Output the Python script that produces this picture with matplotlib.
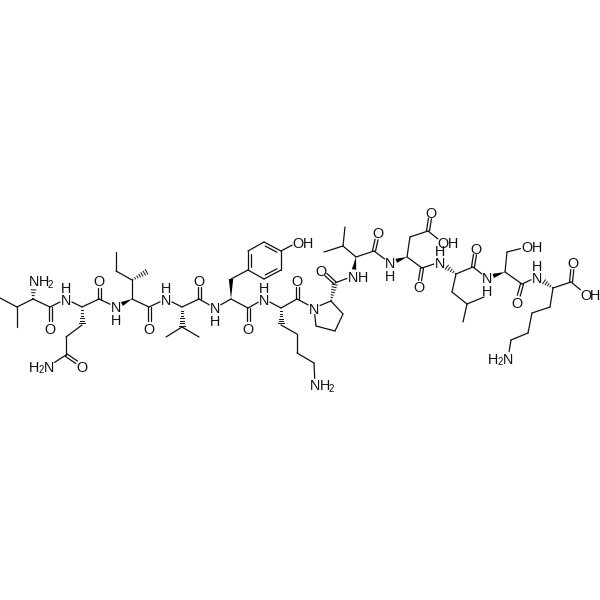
import matplotlib
matplotlib.use("Agg")
import matplotlib.pyplot as plt
import numpy as np

plt.rcParams['font.family'] = ['Liberation Sans', 'DejaVu Sans']

# atom positions (image pixels)
atoms = {
 'a1':(0,298),'a2':(17,307),'a3':(17,327),'a4':(33,299),'n1':(34,281),'a5':(50,307),'o1':(50,328),
 'n2':(66,299),'b1':(82,307),'b2':(82,325),'b3':(66,337),'b4':(66,355),'o2':(82,366),'n3':(49,366),
 'b5':(99,299),'o3':(99,281),'n4':(116,307),
 'c1':(132,299),'c2':(132,280),'c3':(148,271),'c4':(116,271),'c5':(116,252),'c6':(149,307),'o4':(149,328),
 'n5':(166,299),'d1':(182,307),'d2':(182,327),'d3':(166,337),'d4':(199,337),'d5':(199,299),'o5':(199,280),
 'n6':(215,308),'e1':(231,299),'e2':(231,279),'r1':(248,270),'r2':(248,251),'r3':(264,242),'r4':(281,251),
 'r5':(281,270),'r6':(264,279),'o6':(298,242),'e3':(248,308),'o7':(248,328),
 'n7':(264,299),'f1':(281,308),'f2':(281,325),'f3':(297,334),'f4':(297,353),'f5':(314,363),'n8':(315,385),
 'f6':(297,299),'o8':(297,280),'n9':(314,308),
 'p1':(331,301),'p2':(343,314),'p3':(335,331),'p4':(316,326),'p5':(335,283),'o9':(321,270),
 'n10':(353,276),'g1':(356,257),'g2':(343,246),'g3':(345,227),'g4':(324,252),'g5':(374,251),'o10':(378,233),
 'n11':(390,263),'h1':(407,257),'h2':(410,237),'h3':(428,231),'o11':(431,212),'o12':(443,243),
 'h4':(422,268),'o13':(419,287),'n12':(440,262),
 'i1':(456,274),'i2':(452,292),'i3':(467,304),'i4':(484,297),'i5':(463,322),'i6':(473,267),'o14':(476,248),
 'n13':(487,278),'j1':(505,272),'j2':(507,252),'o15':(527,247),'j3':(522,284),'o16':(517,302),
 'n14':(537,277),'k1':(553,288),'k2':(571,282),'o17':(573,263),'o18':(585.5,294),
 'k3':(550,307),'k4':(532,313),'k5':(528,333),'k6':(511,340),'n15':(508,358),
}
single_bonds = "a1-a2 a2-a3 a2-a4 a4-a5 a5-n2 n2-b1 b1-b5 b2-b3 b3-b4 b4-n3 b5-n4 c1-c2 c2-c4 c4-c5 c1-c6 c6-n5 n5-d1 d1-d5 d2-d3 d2-d4 d5-n6 n6-e1 e1-e3 e2-r1 r2-r3 r4-r5 r6-r1 r4-o6 e3-n7 n7-f1 f1-f6 f2-f3 f3-f4 f4-f5 f5-n8 f6-n9 n9-p1 p1-p2 p2-p3 p3-p4 p4-n9 p5-n10 g1-g2 g2-g3 g2-g4 g1-g5 g5-n11 h1-h2 h2-h3 h3-o12 h1-h4 h4-n12 i1-i2 i2-i3 i3-i4 i3-i5 i1-i6 i6-n13 j1-j2 j2-o15 j1-j3 j3-n14 k1-k2 k2-o18 k1-k3 k3-k4 k4-k5 k5-k6 k6-n15".split()
double_bonds = "a5-o1 b4-o2 b5-o3 c6-o4 d5-o5 e3-o7 f6-o8 p5-o9 g5-o10 h3-o11 h4-o13 i6-o14 j3-o16 k2-o17".split()
ring_double_bonds = "r1-r2 r3-r4 r5-r6".split()
ring_center = (264.5, 260.5)
wedge_bonds = "c1-n4 e1-e2 g1-n10 h1-n11 j1-n13".split()
hash_bonds = "a4-n1 b1-b2 c2-c3 d1-d2 f1-f2 p1-p5 i1-n12 k1-n14".split()

hetero = {k:('O' if k[0]=='o' else 'N') for k in atoms if k[0] in 'on' and k[1:].isdigit()}
nh_h_above = ['n2','n5','n7','n12','n14']
nh_h_below = ['n4','n6','n11','n13']
# hydrogens written beside their atom: atom key, text, dx
side_h = [('n10','H',10),('o6','H',10),('o12','H',9.7),('o15','H',9.7),('o18','H',9.4),
          ('n1','H',9.7),('n8','H',9.7),('n3','H',-14.6),('n15','H',-15)]
subscripts = [('n1','2',16.5,3.2),('n8','2',16.5,3.2),('n3','2',-7.8,3.2),('n15','2',-7.8,3.2)]

INK = '#111111'; LW = 0.9; TRIM = 6.6

fig = plt.figure(figsize=(6,6), dpi=100, facecolor='white')
ax = fig.add_axes([0,0,1,1])
ax.set_xlim(0,600); ax.set_ylim(600,0); ax.axis('off')

def ends(key):
    u,v = key.split('-')
    p,q = np.array(atoms[u],float),np.array(atoms[v],float)
    d = (q-p)/np.hypot(*(q-p))
    if u in hetero: p = p+d*TRIM
    if v in hetero: q = q-d*TRIM
    return p,q,d

for b in single_bonds:
    p,q,d = ends(b)
    ax.plot([p[0],q[0]],[p[1],q[1]],color=INK,lw=LW,solid_capstyle='round')
for b in double_bonds:
    p,q,d = ends(b)
    n = np.array([-d[1],d[0]])*1.5
    for s in (-1,1):
        ax.plot([p[0]+s*n[0],q[0]+s*n[0]],[p[1]+s*n[1],q[1]+s*n[1]],color=INK,lw=LW,solid_capstyle='round')
for b in ring_double_bonds:
    p,q,d = ends(b)
    ax.plot([p[0],q[0]],[p[1],q[1]],color=INK,lw=LW,solid_capstyle='round')
    n = np.array([-d[1],d[0]])
    m = (p+q)/2
    if np.dot(np.array(ring_center)-m,n)<0: n = -n
    a,c = p+d*3+n*3, q-d*3+n*3
    ax.plot([a[0],c[0]],[a[1],c[1]],color=INK,lw=LW,solid_capstyle='round')
for b in wedge_bonds:
    p,q,d = ends(b)
    n = np.array([-d[1],d[0]])*2.2
    ax.fill([p[0],q[0]+n[0],q[0]-n[0]],[p[1],q[1]+n[1],q[1]-n[1]],color='black',lw=0)
for b in hash_bonds:
    p,q,d = ends(b)
    n = np.array([-d[1],d[0]])
    L = np.hypot(*(q-p))
    for t in np.arange(0.05,1.0,1/max(int(L/2.4),1)):
        c = p+(q-p)*t; w = 2.6*t+0.2
        ax.plot([c[0]-n[0]*w,c[0]+n[0]*w],[c[1]-n[1]*w,c[1]+n[1]*w],color=INK,lw=0.7)

FS = 10.4
LSP = 0.85
SHIFT = 1.5   # centre of a two-line block sits above the midpoint of its capitals
for k,t in hetero.items():
    x,y = atoms[k]
    if k in nh_h_above:
        ax.text(x,y-5.5+SHIFT,'H\nN',fontsize=FS,ha='center',va='center',linespacing=LSP,color=INK)
    elif k in nh_h_below:
        ax.text(x,y+6+SHIFT,'N\nH',fontsize=FS,ha='center',va='center',linespacing=LSP,color=INK)
    else:
        ax.text(x,y,t,fontsize=FS,ha='center',va='center_baseline',color=INK)
for k,t,dx in side_h:
    x,y = atoms[k]
    ax.text(x+dx,y,t,fontsize=FS,ha='center',va='center_baseline',color=INK)
for k,t,dx,dy in subscripts:
    x,y = atoms[k]
    ax.text(x+dx,y+dy,t,fontsize=7,ha='center',va='center_baseline',color=INK)

fig.savefig('out.png',dpi=100,facecolor='white')
